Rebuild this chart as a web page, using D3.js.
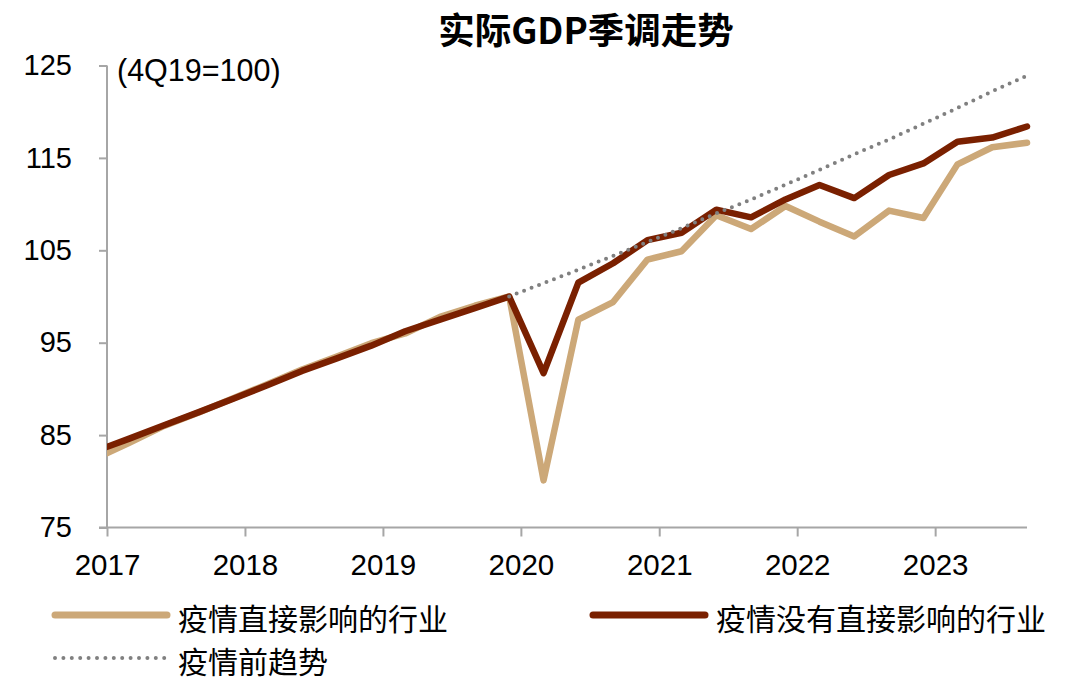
<!DOCTYPE html>
<html>
<head>
<meta charset="utf-8">
<script src="https://cdn.jsdelivr.net/npm/d3@7"></script>
<style>
  html, body { margin: 0; padding: 0; background: #fff; }
  svg { display: block; }
</style>
</head>
<body>
<svg id="chart" width="1080" height="684"></svg>
<script>
// ---- Data (index 4Q19 = 100) ----
const quarters = ["4Q16","1Q17","2Q17","3Q17","4Q17","1Q18","2Q18","3Q18","4Q18","1Q19","2Q19","3Q19","4Q19",
                  "1Q20","2Q20","3Q20","4Q20","1Q21","2Q21","3Q21","4Q21","1Q22","2Q22","3Q22","4Q22","1Q23","2Q23","3Q23"];
const directlyAffected = [82.45,84.16,86.0,87.45,89.0,90.5,92.1,93.5,94.95,96.0,97.8,99.0,100.0,
                          80.1,97.5,99.4,104.0,104.9,108.8,107.3,109.8,108.1,106.5,109.3,108.5,114.3,116.15,116.65];
const notDirectlyAffected = [83.26,84.62,86.06,87.49,88.93,90.4,91.95,93.3,94.68,96.24,97.5,98.75,100.0,
                             91.7,101.5,103.6,106.1,106.9,109.4,108.57,110.5,112.07,110.65,113.15,114.4,116.75,117.2,118.4];
const trendQuarters = ["4Q19","1Q20","2Q20","3Q20","4Q20","1Q21","2Q21","3Q21","4Q21","1Q22","2Q22","3Q22","4Q22","1Q23","2Q23","3Q23"];
const preCovidTrend = [100,101.44,102.9,104.4,105.9,107.4,109.0,110.5,112.1,113.7,115.4,117.0,118.7,120.4,122.2,123.9];
const yTicks = [75,85,95,105,115,125];
const xTickYears = [2017,2018,2019,2020,2021,2022,2023];
const seriesNames = ["疫情直接影响的行业","疫情没有直接影响的行业","疫情前趋势"];
const titleText = "实际GDP季调走势";
const unitText = "(4Q19=100)";

// quarter label -> date (first day of last month of the quarter)
function qDate(label) {
  const q = +label[0];
  const yr = 2000 + +label.slice(2);
  return new Date(yr, 3 * q - 1, 1);
}

const svg = d3.select("#chart");
const mLeft = 107, mRight = 1027, mTop = 65.5, mBottom = 527.5;

const x = d3.scaleTime()
  .domain([new Date(2017, 0, 1), new Date(2023, 8, 1)])
  .range([mLeft, mRight]);
const y = d3.scaleLinear().domain([75, 125]).range([mBottom, mTop]);

const latin = "'Liberation Sans', Arial, sans-serif";
const cjk = "'Noto Sans CJK SC', 'Liberation Sans', sans-serif";
const axisColor = "#a6a6a6";
const tanColor = "#CCA878";
const darkColor = "#7A2000";
const dotColor = "#808080";

// Title
svg.append("text")
  .attr("x", 586).attr("y", 28)
  .attr("text-anchor", "middle")
  .attr("dominant-baseline", "central")
  .style("font-family", cjk)
  .style("font-weight", "bold")
  .style("font-size", "36.5px")
  .attr("fill", "#000")
  .text(titleText);

// Y axis
const yAxis = svg.append("g")
  .attr("transform", `translate(${mLeft},0)`)
  .call(d3.axisLeft(y).tickValues(yTicks).tickSize(8).tickPadding(27).tickFormat(d3.format("d")));
yAxis.select(".domain").attr("stroke", axisColor).attr("stroke-width", 2).attr("d", `M0,${mTop}V${mBottom}`);
yAxis.selectAll(".tick line").attr("stroke", axisColor).attr("stroke-width", 2);
yAxis.selectAll(".tick text")
  .style("font-family", latin).style("font-size", "29px").attr("fill", "#000");

// X axis
const xAxis = svg.append("g")
  .attr("transform", `translate(0,${mBottom})`)
  .call(d3.axisBottom(x).tickValues(xTickYears.map(yr => new Date(yr, 0, 1)))
    .tickSize(9).tickPadding(18).tickFormat(d3.timeFormat("%Y")));
xAxis.select(".domain").attr("stroke", axisColor).attr("stroke-width", 2).attr("d", `M${mLeft - 8},0H${mRight}`);
xAxis.selectAll(".tick line").attr("stroke", axisColor).attr("stroke-width", 2);
xAxis.selectAll(".tick text")
  .style("font-family", latin).style("font-size", "29.5px").attr("fill", "#000");

// unit label
svg.append("text")
  .attr("x", 117).attr("y", 70)
  .attr("dominant-baseline", "central")
  .style("font-family", latin).style("font-size", "30.5px")
  .attr("fill", "#000")
  .text(unitText);

// clip
svg.append("clipPath").attr("id", "plotClip")
  .append("rect").attr("x", mLeft).attr("y", 0).attr("width", mRight - mLeft + 20).attr("height", mBottom + 20);

const line = d3.line()
  .x(d => x(qDate(d.q)))
  .y(d => y(d.v));

const plot = svg.append("g").attr("clip-path", "url(#plotClip)");

plot.append("path")
  .datum(quarters.map((q, i) => ({ q, v: directlyAffected[i] })))
  .attr("d", line)
  .attr("fill", "none").attr("stroke", tanColor).attr("stroke-width", 6.5)
  .attr("stroke-linejoin", "round").attr("stroke-linecap", "round");

plot.append("path")
  .datum(quarters.map((q, i) => ({ q, v: notDirectlyAffected[i] })))
  .attr("d", line)
  .attr("fill", "none").attr("stroke", darkColor).attr("stroke-width", 6.5)
  .attr("stroke-linejoin", "round").attr("stroke-linecap", "round");

plot.append("path")
  .datum(trendQuarters.map((q, i) => ({ q, v: preCovidTrend[i] })))
  .attr("d", line)
  .attr("fill", "none").attr("stroke", dotColor).attr("stroke-width", 4)
  .attr("stroke-dasharray", "0 8").attr("stroke-linecap", "round");

// Legend
const legend = svg.append("g");
function legendItem(x0, yy, color, dotted, label) {
  const l = legend.append("line")
    .attr("x1", x0).attr("x2", x0 + 112).attr("y1", yy).attr("y2", yy)
    .attr("stroke", color).attr("stroke-linecap", "round");
  if (dotted) l.attr("stroke-width", 4).attr("stroke-dasharray", "0 8.4");
  else l.attr("stroke-width", 7);
  legend.append("text")
    .attr("x", x0 + 123).attr("y", yy + 2)
    .attr("dominant-baseline", "central")
    .style("font-family", cjk).style("font-size", "30px")
    .attr("fill", "#000")
    .text(label);
}
legendItem(55, 615, tanColor, false, seriesNames[0]);
legendItem(593, 615, darkColor, false, seriesNames[1]);
legendItem(55, 658, dotColor, true, seriesNames[2]);
</script>
</body>
</html>
